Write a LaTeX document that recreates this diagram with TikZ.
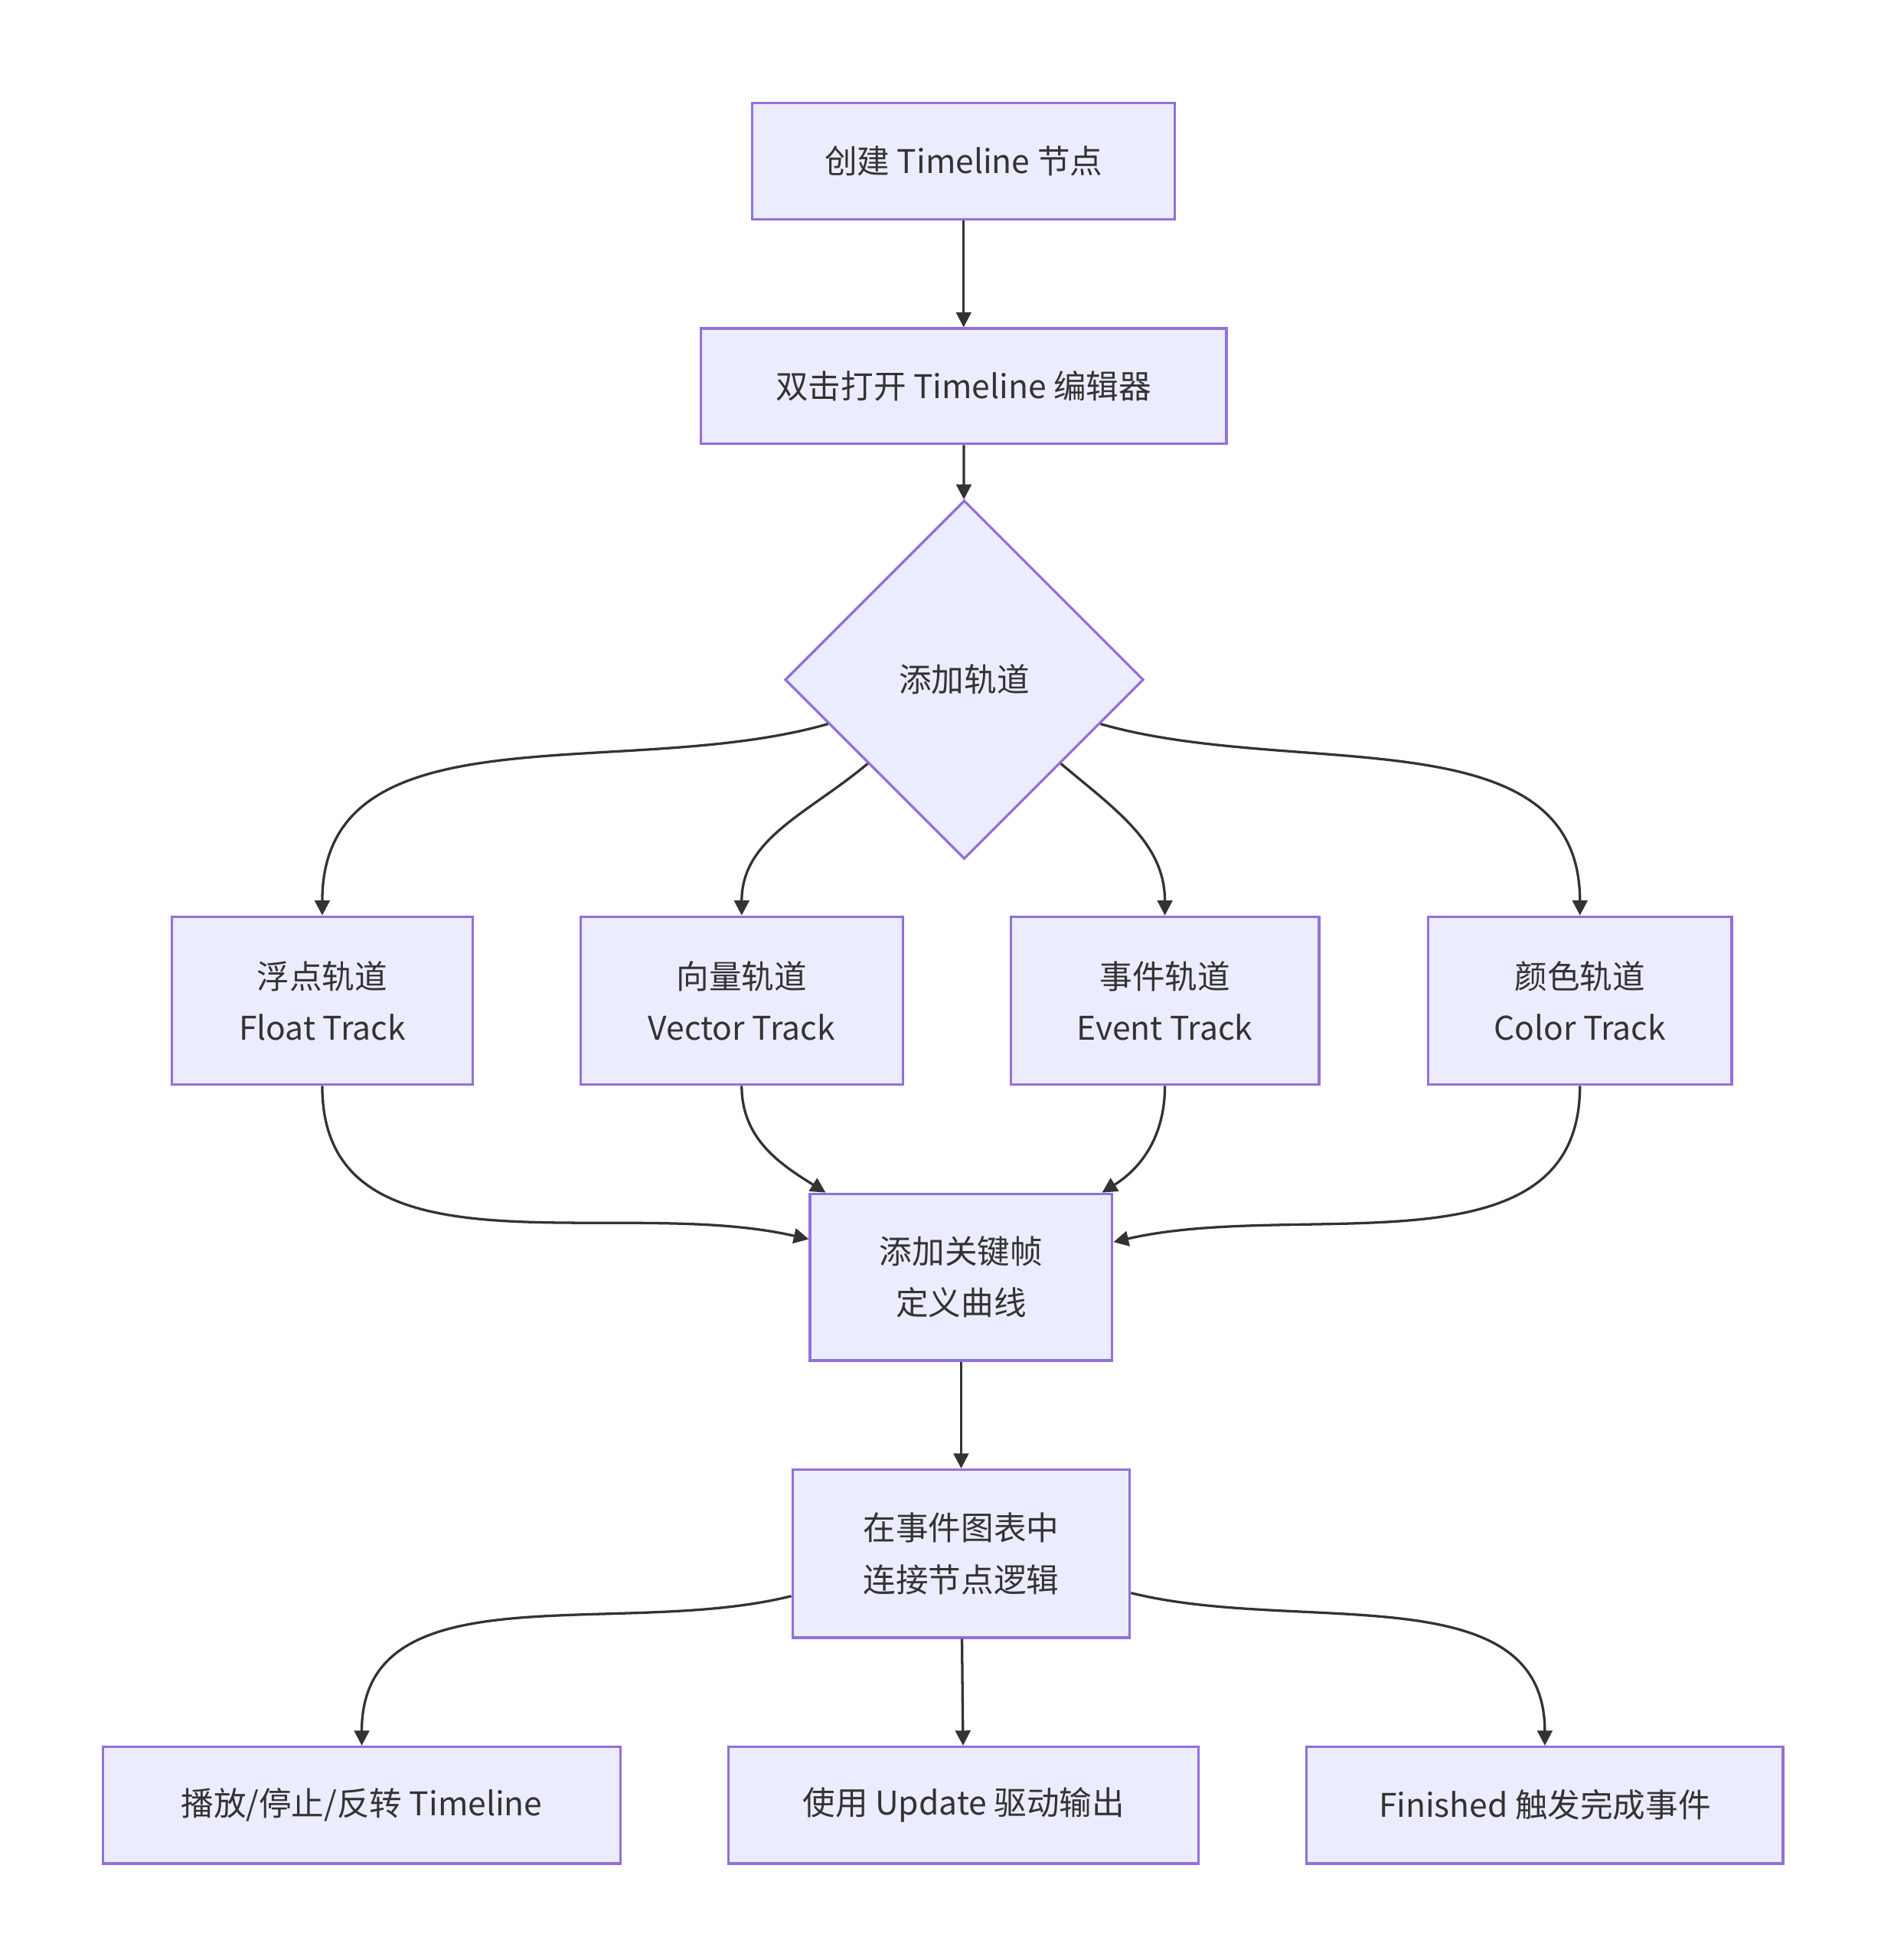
\documentclass[tikz,border=0pt]{standalone}
\usepackage{fontspec}
\setmainfont{Noto Sans CJK SC}
\usetikzlibrary{shapes.geometric,arrows.meta}
\definecolor{nfill}{HTML}{ECECFF}
\definecolor{nline}{HTML}{9370DB}
\definecolor{eline}{HTML}{333333}
\begin{document}
\begin{tikzpicture}[x=0.5pt,y=-0.5pt,
  box/.style={draw=nline,fill=nfill,line width=1pt,inner sep=0pt,align=center,font=\fontsize{13pt}{20.5pt}\selectfont,text=eline},
  dia/.style={diamond,draw=nline,fill=nfill,line width=1pt,inner sep=0pt,minimum size=143pt,font=\fontsize{13pt}{16pt}\selectfont,text=eline},
  e/.style={draw=eline,line width=1pt,-{Triangle[length=6pt,width=6pt]}}]
\useasboundingbox (0,0) rectangle (1500,1563);
\node[box,minimum width=168.5pt,minimum height=46.5pt] (a) at (768.5,128.5) {创建 Timeline 节点};
\node[box,minimum width=209.5pt,minimum height=46pt] (b) at (768.5,308) {双击打开 Timeline 编辑器};
\node[dia] (d) at (769,542) {添加轨道};
\node[box,minimum width=120pt,minimum height=67pt] (t1) at (257,798) {浮点轨道\\Float Track};
\node[box,minimum width=128.5pt,minimum height=67pt] (t2) at (591.5,798) {向量轨道\\Vector Track};
\node[box,minimum width=123pt,minimum height=67pt] (t3) at (929,798) {事件轨道\\Event Track};
\node[box,minimum width=121pt,minimum height=67pt] (t4) at (1260,798) {颜色轨道\\Color Track};
\node[box,minimum width=120.5pt,minimum height=66.5pt] (k) at (766.5,1018.5) {添加关键帧\\定义曲线};
\node[box,minimum width=134.5pt,minimum height=67pt] (ev) at (766.5,1239) {在事件图表中\\连接节点逻辑};
\node[box,minimum width=206.5pt,minimum height=46.5pt] (p1) at (288.5,1439.5) {播放/停止/反转 Timeline};
\node[box,minimum width=187.5pt,minimum height=46.5pt] (p2) at (768.5,1439.5) {使用 Update 驱动输出};
\node[box,minimum width=190pt,minimum height=46.5pt] (p3) at (1232,1439.5) {Finished 触发完成事件};
\draw[e] (a) -- (b);
\draw[e] (b) -- (d);
\draw[e] (d.-162) to[out=-164,in=90] (t1.north);
\draw[e] (d.-139) to[out=-140,in=90] (t2.north);
\draw[e] (d.-41) to[out=-40,in=90] (t3.north);
\draw[e] (d.-18) to[out=-16,in=90] (t4.north);
\draw[e] (t1.south) to[out=-90,in=167] (k.166.7);
\draw[e] (t2.south) to[out=-90,in=148] (k.148.7);
\draw[e] (t3.south) to[out=-90,in=32] (k.31.3);
\draw[e] (t4.south) to[out=-90,in=13] (k.13.3);
\draw[e] (k) -- (ev);
\draw[e] (ev.-166.2) to[out=-166,in=90] (p1.north);
\draw[e] (ev) -- (p2);
\draw[e] (ev.-13.8) to[out=-14,in=90] (p3.north);
\end{tikzpicture}
\end{document}
